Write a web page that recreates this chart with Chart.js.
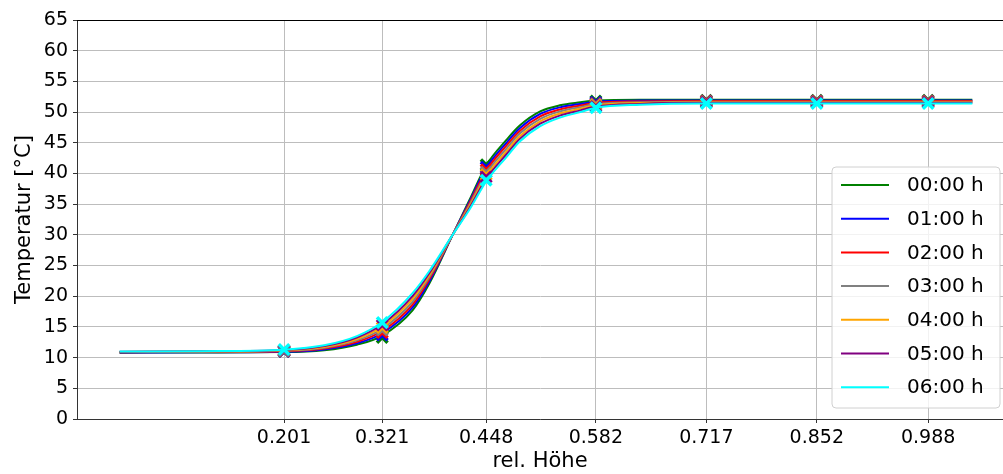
<!DOCTYPE html>
<html>
<head>
<meta charset="utf-8">
<script src="https://cdn.jsdelivr.net/npm/chart.js@4/dist/chart.umd.min.js"></script>
<style>
  html, body { margin: 0; padding: 0; background: #fff; overflow: hidden; }
</style>
</head>
<body>
<canvas id="chart" width="1003" height="474"></canvas>
<script>
// Messpunkte (rel. Höhe) und Achsenticks
const xTicks = [0.201, 0.321, 0.448, 0.582, 0.717, 0.852, 0.988];
const labels = ['00:00 h', '01:00 h', '02:00 h', '03:00 h', '04:00 h', '05:00 h', '06:00 h'];
const colors = ['#008000', '#0000ff', '#ff0000', '#808080', '#ffa500', '#800080', '#00ffff'];

// Messwerte an den Sensoren
const mess00 = [11.0, 13.3, 41.4, 51.8, 51.9, 51.9, 51.9];
const mess01 = [11.0, 13.7, 41.0, 51.6, 51.8, 51.8, 51.8];
const mess02 = [11.1, 14.1, 40.6, 51.4, 51.8, 51.8, 51.8];
const mess03 = [11.1, 14.5, 40.2, 51.3, 51.7, 51.7, 51.7];
const mess04 = [11.2, 14.9, 39.8, 51.1, 51.6, 51.6, 51.6];
const mess05 = [11.2, 15.3, 39.4, 50.9, 51.6, 51.6, 51.6];
const mess06 = [11.3, 15.7, 38.9, 50.7, 51.4, 51.4, 51.4];

const fitX = [0, 0.1, 0.201, 0.25, 0.29, 0.321, 0.358, 0.379, 0.407, 0.428, 0.448, 0.473, 0.489, 0.514, 0.538, 0.563, 0.582, 0.636, 0.717, 0.852, 1.042];
const fit00 = [10.8, 10.85, 10.9, 11.2, 12.1, 13.6, 17.7, 22.2, 30.0, 35.8, 41.3, 45.5, 47.8, 50.1, 51.1, 51.6, 51.9, 52.0, 52.0, 52.0, 52.0];
const fit01 = [10.83, 10.88, 10.97, 11.33, 12.33, 13.97, 18.17, 22.53, 30.0, 35.53, 40.87, 45.03, 47.37, 49.7, 50.77, 51.33, 51.7, 51.87, 51.9, 51.9, 51.9];
const fit02 = [10.87, 10.92, 11.03, 11.47, 12.57, 14.33, 18.63, 22.87, 30.0, 35.27, 40.43, 44.57, 46.93, 49.3, 50.43, 51.07, 51.5, 51.73, 51.8, 51.8, 51.8];
const fit03 = [10.9, 10.95, 11.1, 11.6, 12.8, 14.7, 19.1, 23.2, 30.0, 35.0, 40.0, 44.1, 46.5, 48.9, 50.1, 50.8, 51.3, 51.6, 51.7, 51.7, 51.7];
const fit04 = [10.93, 10.98, 11.17, 11.73, 13.03, 15.07, 19.57, 23.53, 30.0, 34.73, 39.57, 43.63, 46.07, 48.5, 49.77, 50.53, 51.1, 51.47, 51.6, 51.6, 51.6];
const fit05 = [10.97, 11.02, 11.23, 11.87, 13.27, 15.43, 20.03, 23.87, 30.0, 34.47, 39.13, 43.17, 45.63, 48.1, 49.43, 50.27, 50.9, 51.33, 51.5, 51.5, 51.5];
const fit06 = [11.0, 11.05, 11.3, 12.0, 13.5, 15.8, 20.5, 24.2, 30.0, 34.2, 38.7, 42.7, 45.2, 47.7, 49.1, 50.0, 50.7, 51.2, 51.4, 51.4, 51.4];

const messAll = [mess00, mess01, mess02, mess03, mess04, mess05, mess06];
const fitAll = [fit00, fit01, fit02, fit03, fit04, fit05, fit06];

const FONT = "'DejaVu Sans', sans-serif";

const datasets = [];
labels.forEach((lab, i) => {
  datasets.push({
    label: lab,
    isFit: true,
    data: fitX.map((x, j) => ({ x: x, y: fitAll[i][j] })),
    borderColor: colors[i],
    backgroundColor: colors[i],
    borderWidth: 2,
    pointRadius: 0,
    cubicInterpolationMode: 'monotone'
  });
  datasets.push({
    label: lab + ' Messung',
    data: xTicks.map((x, j) => ({ x: x, y: messAll[i][j] })),
    showLine: false,
    borderColor: colors[i],
    backgroundColor: colors[i],
    pointStyle: 'crossRot',
    pointRadius: 7.5,
    pointBorderWidth: 3.5
  });
});
// wie matplotlib: spaetere Reihen oben
datasets.forEach((d, i) => { d.order = datasets.length - i; });

// Legende innerhalb der Achsen (rechts unten)
const innerLegend = {
  id: 'innerLegend',
  afterDraw(chart) {
    const ctx = chart.ctx;
    const x0 = 832, y0 = 167, w = 168, h = 241;
    ctx.save();
    ctx.beginPath();
    ctx.roundRect(x0, y0, w, h, 4);
    ctx.fillStyle = 'rgba(255,255,255,0.8)';
    ctx.fill();
    ctx.strokeStyle = '#d0d0d0';
    ctx.lineWidth = 1;
    ctx.stroke();
    ctx.font = '20px ' + FONT;
    ctx.textBaseline = 'middle';
    ctx.fillStyle = '#000';
    chart.data.datasets.filter(d => d.isFit).forEach((d, i) => {
      const y = 185 + i * 33.7;
      ctx.beginPath();
      ctx.moveTo(841, y);
      ctx.lineTo(889, y);
      ctx.strokeStyle = d.borderColor;
      ctx.lineWidth = 2;
      ctx.stroke();
      ctx.fillText(d.label, 907, y + 1);
    });
    // obere Achsenlinie
    const a = chart.chartArea;
    ctx.beginPath();
    ctx.moveTo(a.left, a.top + 0.5);
    ctx.lineTo(a.right, a.top + 0.5);
    ctx.strokeStyle = '#000';
    ctx.lineWidth = 1;
    ctx.stroke();
    ctx.restore();
  }
};

new Chart(document.getElementById('chart'), {
  type: 'line',
  data: { datasets: datasets },
  options: {
    responsive: false,
    animation: false,
    layout: { autoPadding: false, padding: { top: 20, left: 0, right: 0, bottom: 0 } },
    plugins: { legend: { display: false }, tooltip: { enabled: false } },
    scales: {
      x: {
        type: 'linear',
        min: -0.052,
        max: 1.0795,
        afterBuildTicks: scale => { scale.ticks = xTicks.map(v => ({ value: v })); },
        afterFit: scale => { scale.height = 55; scale.paddingLeft = 0; scale.paddingRight = 0; },
        ticks: {
          callback: v => v.toFixed(3),
          font: { family: FONT, size: 19 },
          color: '#000',
          padding: 4,
          maxRotation: 0,
          autoSkip: false
        },
        grid: { color: '#bdbdbd', lineWidth: 1, tickLength: 4, tickColor: '#333' },
        border: { display: true, color: '#333', width: 1 },
        title: {
          display: true,
          text: 'rel. Höhe',
          font: { family: FONT, size: 21 },
          color: '#000',
          padding: { top: 0, bottom: 0 }
        }
      },
      y: {
        min: 0,
        max: 65,
        afterFit: scale => { scale.width = 77; },
        ticks: {
          stepSize: 5,
          font: { family: FONT, size: 19 },
          color: '#000',
          padding: 5
        },
        grid: { color: '#bdbdbd', lineWidth: 1, tickLength: 4, tickColor: '#333' },
        border: { display: true, color: '#333', width: 1 },
        title: {
          display: true,
          text: 'Temperatur [°C]',
          font: { family: FONT, size: 21 },
          color: '#000',
          padding: { top: 12, bottom: 0 }
        }
      }
    }
  },
  plugins: [innerLegend]
});
</script>
</body>
</html>
